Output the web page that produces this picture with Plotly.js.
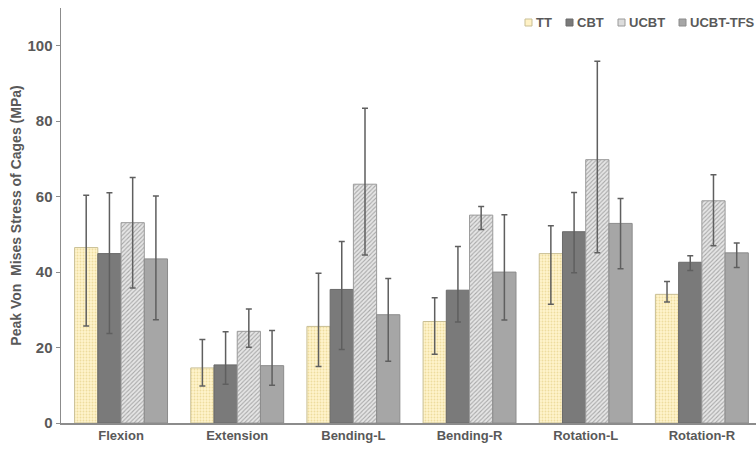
<!DOCTYPE html>
<html>
<head>
<meta charset="utf-8">
<script src="https://cdn.plot.ly/plotly-3.0.1.min.js"></script>
<style>html,body{margin:0;padding:0;background:#fff;}#chart{width:756px;height:450px;}</style>
</head>
<body>
<div id="chart"></div>
<script>
const categories = ["Flexion", "Extension", "Bending-L", "Bending-R", "Rotation-L", "Rotation-R"];
const seriesNames = ["TT", "CBT", "UCBT", "UCBT-TFS"];

const ttValues = [46.5, 14.6, 25.6, 26.9, 44.9, 34.1];
const ttPlus   = [13.9, 7.5, 14.1, 6.3, 7.4, 3.4];
const ttMinus  = [20.8, 4.8, 10.6, 8.7, 13.4, 2.0];

const cbtValues = [44.9, 15.4, 35.4, 35.2, 50.7, 42.6];
const cbtPlus   = [16.1, 8.8, 12.7, 11.6, 10.4, 1.7];
const cbtMinus  = [21.2, 5.1, 15.9, 8.4, 10.9, 2.2];

const ucbtValues = [53.1, 24.3, 63.3, 55.1, 69.8, 58.9];
const ucbtPlus   = [12.0, 5.9, 20.1, 2.3, 26.1, 6.9];
const ucbtMinus  = [17.3, 4.2, 18.8, 3.8, 24.7, 11.9];

const tfsValues = [43.5, 15.2, 28.7, 40.0, 52.9, 45.1];
const tfsPlus   = [16.7, 9.3, 9.6, 15.2, 6.6, 2.6];
const tfsMinus  = [16.1, 5.2, 12.3, 12.7, 12.0, 3.9];

const yTicks = [0, 20, 40, 60, 80, 100];

const textColor = "#595959";
const fontFam = "Liberation Sans, Arial, sans-serif";

function err(plus, minus) {
  return {type: "data", symmetric: false, array: plus, arrayminus: minus,
          color: "#5f5f5f", thickness: 1.5, width: 3};
}

const styles = [
  {color: "#fff2c6", line: "#c9bf95", pattern: {shape: ".", fgcolor: "#eedc9e", bgcolor: "#fff4cc", size: 3, solidity: 0.3}},
  {color: "#7a7a7a", line: "#6a6a6a", pattern: null},
  {color: "#dcdcdc", line: "#9a9a9a", pattern: {shape: "/", fgcolor: "#a8a8a8", bgcolor: "#e6e6e6", size: 3, solidity: 0.35}},
  {color: "#a6a6a6", line: "#8c8c8c", pattern: null}
];
const vals = [ttValues, cbtValues, ucbtValues, tfsValues];
const pluses = [ttPlus, cbtPlus, ucbtPlus, tfsPlus];
const minuses = [ttMinus, cbtMinus, ucbtMinus, tfsMinus];

const traces = seriesNames.map((name, i) => {
  const marker = {color: styles[i].color, line: {color: styles[i].line, width: 1}};
  if (styles[i].pattern) marker.pattern = styles[i].pattern;
  return {type: "bar", name: name, x: categories, y: vals[i],
          marker: marker, error_y: err(pluses[i], minuses[i]), showlegend: false};
});

// custom legend (annotations + small squares)
const legendX = [525, 566, 618, 679];
const shapes = [];
const annotations = [];
seriesNames.forEach((name, i) => {
  const x0 = (legendX[i] - 61) / 695;
  const x1 = (legendX[i] + 7 - 61) / 695;
  shapes.push({type: "rect", xref: "paper", yref: "paper",
    x0: x0, x1: x1, y0: (423 - 26) / 415, y1: (423 - 19) / 415,
    fillcolor: styles[i].color, line: {color: styles[i].line, width: 1}});
  annotations.push({xref: "paper", yref: "paper", x: (legendX[i] + 9 - 61) / 695,
    y: (423 - 22.5) / 415, xanchor: "left", yanchor: "middle", showarrow: false,
    text: "<b>" + name + "</b>", font: {family: fontFam, size: 13, color: textColor}});
});

const layout = {
  width: 756, height: 450,
  margin: {l: 61, r: 0, t: 8, b: 27},
  paper_bgcolor: "#fff", plot_bgcolor: "#fff",
  barmode: "group", bargap: 0.2, bargroupgap: 0,
  showlegend: false,
  font: {family: fontFam, size: 13, color: textColor},
  xaxis: {
    type: "category", range: [-0.517, 5.466],
    showline: true, linecolor: "#8c8c8c", linewidth: 1.5,
    ticks: "", showgrid: false, zeroline: false,
    tickfont: {family: fontFam, size: 13, color: textColor, weight: "bold"}
  },
  yaxis: {
    range: [0, 110], tickvals: yTicks, ticktext: yTicks.map(String),
    showline: true, linecolor: "#8c8c8c", linewidth: 1.5,
    ticks: "outside", ticklen: 4, tickcolor: "#8c8c8c",
    showgrid: false, zeroline: false,
    tickfont: {family: fontFam, size: 15, color: textColor, weight: "bold"},
    title: {text: "<b>Peak Von  Mises Stress of Cages (MPa)</b>", standoff: 2,
            font: {family: fontFam, size: 14, color: textColor}}
  },
  shapes: shapes,
  annotations: annotations
};

Plotly.newPlot("chart", traces, layout, {displayModeBar: false, staticPlot: true});
</script>
</body>
</html>
